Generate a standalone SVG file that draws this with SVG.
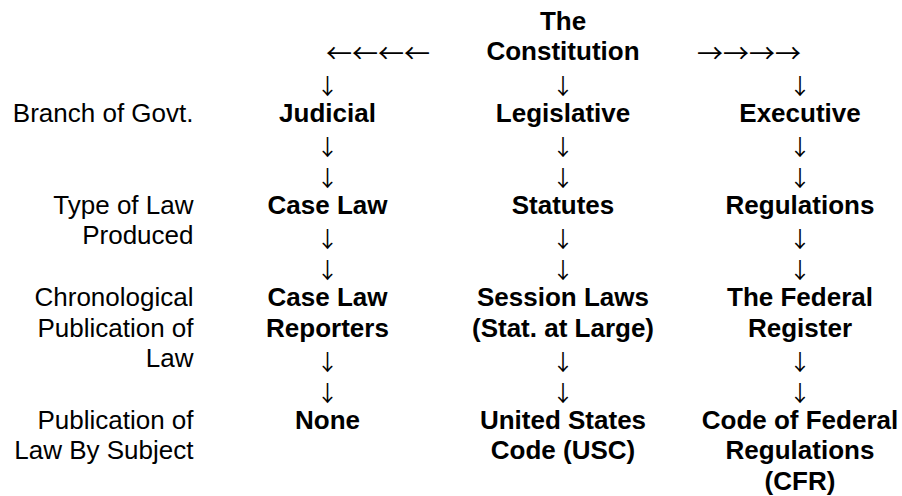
<svg xmlns="http://www.w3.org/2000/svg" width="902" height="496" viewBox="0 0 902 496">
<style>
text { font-family: "Liberation Sans", Arial, sans-serif; font-size: 26px; fill: #000; }
.n { font-weight: bold; text-anchor: middle; }
.l { text-anchor: end; }
#connectors text { font-family: "Noto Sans CJK JP", "Noto Sans CJK SC", sans-serif; font-weight: normal; }
#connectors text.a { font-size: 22px; text-anchor: middle; }
.h { text-anchor: start; }
</style>
<rect width="902" height="496" fill="#fff"/>
<g id="connectors">
  <text class="h" x="326" y="63">←←←←</text>
  <text class="h" x="697" y="63">→→→→</text>
  <text class="a" x="327.5" y="93.8">↓</text>
  <text class="a" x="563" y="93.8">↓</text>
  <text class="a" x="800" y="93.8">↓</text>
  <text class="a" x="327.5" y="155.2">↓<tspan x="327.5" dy="30.7">↓</tspan></text>
  <text class="a" x="563" y="155.2">↓<tspan x="563" dy="30.7">↓</tspan></text>
  <text class="a" x="800" y="155.2">↓<tspan x="800" dy="30.7">↓</tspan></text>
  <text class="a" x="327.5" y="247.3">↓<tspan x="327.5" dy="30.7">↓</tspan></text>
  <text class="a" x="563" y="247.3">↓<tspan x="563" dy="30.7">↓</tspan></text>
  <text class="a" x="800" y="247.3">↓<tspan x="800" dy="30.7">↓</tspan></text>
  <text class="a" x="327.5" y="370.1">↓<tspan x="327.5" dy="30.7">↓</tspan></text>
  <text class="a" x="563" y="370.1">↓<tspan x="563" dy="30.7">↓</tspan></text>
  <text class="a" x="800" y="370.1">↓<tspan x="800" dy="30.7">↓</tspan></text>
</g>
<g id="constitution"><text class="n" x="563" y="29.5">The<tspan x="563" dy="30.7">Constitution</tspan></text></g>
<g id="label-branch"><text class="l" x="193.5" y="121.6">Branch of Govt.</text></g>
<g id="label-type"><text class="l" x="193.5" y="213.7">Type of Law<tspan x="193.5" dy="30.7">Produced</tspan></text></g>
<g id="label-chrono"><text class="l" x="193.5" y="305.8">Chronological<tspan x="193.5" dy="30.7">Publication of</tspan><tspan x="193.5" dy="30.7">Law</tspan></text></g>
<g id="label-subject"><text class="l" x="193.5" y="428.6">Publication of<tspan x="193.5" dy="30.7">Law By Subject</tspan></text></g>
<g id="judicial"><text class="n" x="327.5" y="121.6">Judicial</text></g>
<g id="legislative"><text class="n" x="563" y="121.6">Legislative</text></g>
<g id="executive"><text class="n" x="800" y="121.6">Executive</text></g>
<g id="case-law"><text class="n" x="327.5" y="213.7">Case Law</text></g>
<g id="statutes"><text class="n" x="563" y="213.7">Statutes</text></g>
<g id="regulations"><text class="n" x="800" y="213.7">Regulations</text></g>
<g id="reporters"><text class="n" x="327.5" y="305.8">Case Law<tspan x="327.5" dy="30.7">Reporters</tspan></text></g>
<g id="session-laws"><text class="n" x="563" y="305.8">Session Laws<tspan x="563" dy="30.7">(Stat. at Large)</tspan></text></g>
<g id="federal-register"><text class="n" x="800" y="305.8">The Federal<tspan x="800" dy="30.7">Register</tspan></text></g>
<g id="none"><text class="n" x="327.5" y="428.6">None</text></g>
<g id="usc"><text class="n" x="563" y="428.6">United States<tspan x="563" dy="30.7">Code (USC)</tspan></text></g>
<g id="cfr"><text class="n" x="800" y="428.6">Code of Federal<tspan x="800" dy="30.7">Regulations</tspan><tspan x="800" dy="30.7">(CFR)</tspan></text></g>
</svg>
